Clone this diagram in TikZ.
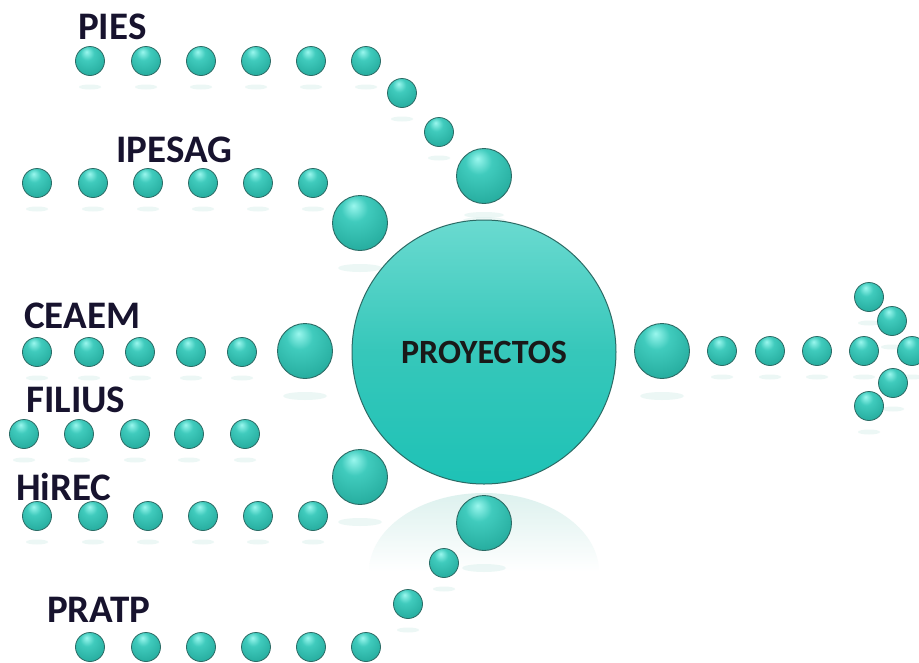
\documentclass[tikz,border=0pt]{standalone}
\usepackage{fontspec}
\setmainfont{Carlito}
\definecolor{tA}{HTML}{9AF7EE}
\definecolor{tB}{HTML}{40CBBD}
\definecolor{tC}{HTML}{28AFA1}
\definecolor{tD}{HTML}{1D8A80}
\definecolor{bA}{HTML}{6ADAD0}
\definecolor{bB}{HTML}{36C7BA}
\definecolor{bC}{HTML}{1EC2B6}
\definecolor{outl}{HTML}{2C6B65}
\definecolor{refl}{HTML}{DDF1EE}
\definecolor{lbl}{HTML}{17132E}
\pgfdeclareradialshading{tball}{\pgfpoint{-6bp}{16bp}}{color(0bp)=(tA); color(12bp)=(tB); color(32bp)=(tC); color(52bp)=(tD); color(70bp)=(tD)}
\tikzset{
  sball/.style={circle, minimum size=29pt, inner sep=0pt, draw=outl, line width=0.8pt, shading=tball},
  mball/.style={circle, minimum size=55pt, inner sep=0pt, draw=outl, line width=0.9pt, shading=tball},
  lbltext/.style={anchor=base west, inner sep=0pt, text=lbl, font=\fontsize{39}{39}\selectfont\bfseries},
  srefl/.style={fill=refl, opacity=0.55},
}
\begin{document}
\begin{tikzpicture}[x=1pt,y=-1pt]
\useasboundingbox (0,0) rectangle (919,662);
\fill[white] (0,0) rectangle (919,662);
% big reflection
\shade[top color=refl, bottom color=white] (369,572) arc[start angle=180,end angle=360,x radius=115,y radius=79] -- cycle;
% small reflections
\foreach \x/\y in {90/61,146/61,201/61,256/61,311/61,366/61,402/93,439/132,
  37/183,93/183,148/183,203/183,258/183,313/183,
  37/352,89/352,140/352,191/352,242/352,
  24/434,79/434,135/434,189/434,245/434,
  37/516,93/516,148/516,203/516,258/516,313/516,
  408/604,444/563,
  722/351,770/351,817/351,864/351,912/351,869/297,892/321,893/383,869/406}
  {\fill[srefl] (\x,\y+26) ellipse[x radius=11, y radius=2.5];}
\foreach \x/\y in {484/176,360/223,305/351,360/477,484/523,662/351}
  {\fill[srefl] (\x,\y+45) ellipse[x radius=22, y radius=4];}
\fill[srefl] (484,215) ellipse[x radius=20, y radius=3];

% big circle
\node[circle, minimum size=264pt, inner sep=0pt, draw=outl, line width=1pt,
  top color=bA, bottom color=bC, middle color=bB] (center) at (484,352) {};
\node[text=black!90, font=\fontsize{34}{34}\selectfont\bfseries] (ctext) at (484,352) {PROYECTOS};

% PIES
\node[sball] (p1) at (90,61) {};
\node[sball] (p2) at (146,61) {};
\node[sball] (p3) at (201,61) {};
\node[sball] (p4) at (256,61) {};
\node[sball] (p5) at (311,61) {};
\node[sball] (p6) at (366,61) {};
\node[sball] (p7) at (402,93) {};
\node[sball] (p8) at (439,132) {};
\node[mball] (pm) at (484,176) {};
\node[lbltext] (lpies) at (78,39) {PIES};

% IPESAG
\node[sball] (i1) at (37,183) {};
\node[sball] (i2) at (93,183) {};
\node[sball] (i3) at (148,183) {};
\node[sball] (i4) at (203,183) {};
\node[sball] (i5) at (258,183) {};
\node[sball] (i6) at (313,183) {};
\node[mball] (im) at (360,223) {};
\node[lbltext] (lipesag) at (116,162) {IPESAG};

% CEAEM
\node[sball] (c1) at (37,352) {};
\node[sball] (c2) at (89,352) {};
\node[sball] (c3) at (140,352) {};
\node[sball] (c4) at (191,352) {};
\node[sball] (c5) at (242,352) {};
\node[mball] (cm) at (305,351) {};
\node[lbltext] (lceaem) at (24,328) {CEAEM};

% FILIUS
\node[sball] (f1) at (24,434) {};
\node[sball] (f2) at (79,434) {};
\node[sball] (f3) at (135,434) {};
\node[sball] (f4) at (189,434) {};
\node[sball] (f5) at (245,434) {};
\node[lbltext] (lfilius) at (26,412) {FILIUS};

% HiREC
\node[sball] (h1) at (37,516) {};
\node[sball] (h2) at (93,516) {};
\node[sball] (h3) at (148,516) {};
\node[sball] (h4) at (203,516) {};
\node[sball] (h5) at (258,516) {};
\node[sball] (h6) at (313,516) {};
\node[mball] (hm) at (360,477) {};
\node[lbltext] (lhirec) at (16,500) {HiREC};

% PRATP
\node[sball] (r1) at (90,647) {};
\node[sball] (r2) at (146,647) {};
\node[sball] (r3) at (201,647) {};
\node[sball] (r4) at (256,647) {};
\node[sball] (r5) at (311,647) {};
\node[sball] (r6) at (366,647) {};
\node[sball] (r7) at (408,604) {};
\node[sball] (r8) at (444,563) {};
\node[mball] (rm) at (484,523) {};
\node[lbltext] (lpratp) at (47,622) {PRATP};

% arrow to the right
\node[mball] (am) at (662,351) {};
\node[sball] (a1) at (722,351) {};
\node[sball] (a2) at (770,351) {};
\node[sball] (a3) at (817,351) {};
\node[sball] (a4) at (864,351) {};
\node[sball] (a5) at (912,351) {};
\node[sball] (a6) at (869,297) {};
\node[sball] (a7) at (892,321) {};
\node[sball] (a8) at (893,383) {};
\node[sball] (a9) at (869,406) {};
\end{tikzpicture}
\end{document}
